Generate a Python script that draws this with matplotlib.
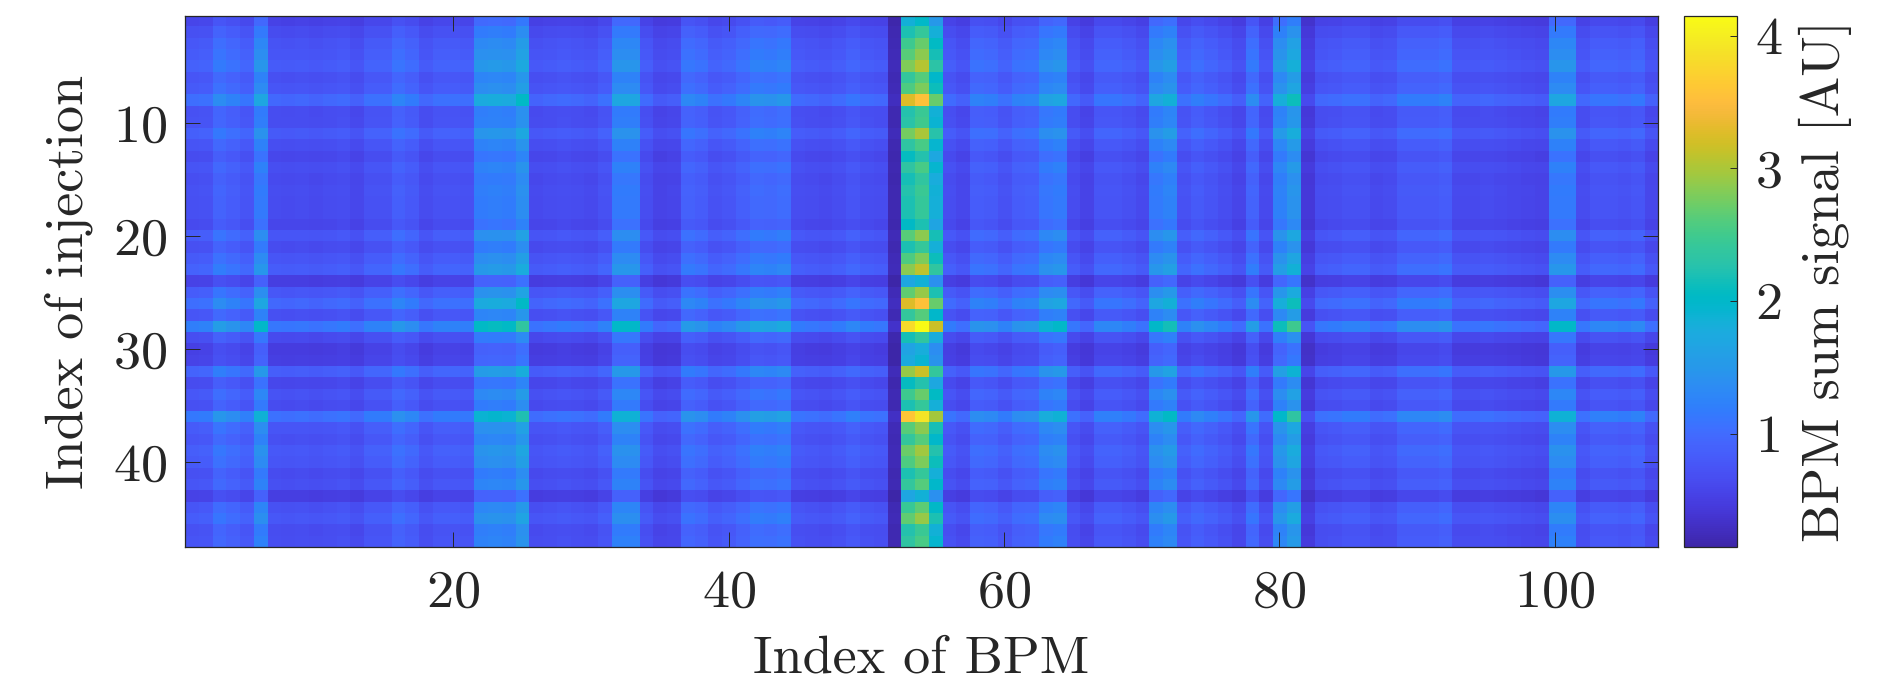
import numpy as np
import matplotlib
matplotlib.use("Agg")
import matplotlib.pyplot as plt
from matplotlib.colors import LinearSegmentedColormap

plt.rcParams["font.family"] = "cmr10"
plt.rcParams["axes.formatter.use_mathtext"] = True

# MATLAB parula (64 entries)
PARULA = [
    [0.2422, 0.1504, 0.6603], [0.2504, 0.1650, 0.7076], [0.2578, 0.1818, 0.7511],
    [0.2647, 0.1978, 0.7952], [0.2706, 0.2147, 0.8364], [0.2751, 0.2342, 0.8710],
    [0.2783, 0.2559, 0.8991], [0.2803, 0.2782, 0.9221], [0.2813, 0.3006, 0.9414],
    [0.2810, 0.3228, 0.9579], [0.2795, 0.3447, 0.9717], [0.2760, 0.3667, 0.9829],
    [0.2699, 0.3892, 0.9906], [0.2602, 0.4123, 0.9952], [0.2440, 0.4358, 0.9988],
    [0.2206, 0.4603, 0.9973], [0.1963, 0.4847, 0.9892], [0.1834, 0.5074, 0.9798],
    [0.1786, 0.5289, 0.9682], [0.1764, 0.5499, 0.9520], [0.1687, 0.5703, 0.9359],
    [0.1540, 0.5902, 0.9218], [0.1460, 0.6091, 0.9079], [0.1380, 0.6276, 0.8973],
    [0.1248, 0.6459, 0.8883], [0.1113, 0.6635, 0.8763], [0.0952, 0.6798, 0.8598],
    [0.0689, 0.6948, 0.8394], [0.0297, 0.7082, 0.8163], [0.0036, 0.7203, 0.7917],
    [0.0067, 0.7312, 0.7660], [0.0433, 0.7411, 0.7394], [0.0964, 0.7500, 0.7120],
    [0.1408, 0.7584, 0.6842], [0.1717, 0.7670, 0.6554], [0.1938, 0.7758, 0.6251],
    [0.2161, 0.7843, 0.5923], [0.2470, 0.7918, 0.5567], [0.2906, 0.7973, 0.5188],
    [0.3406, 0.8008, 0.4789], [0.3909, 0.8029, 0.4354], [0.4456, 0.8024, 0.3909],
    [0.5044, 0.7993, 0.3480], [0.5616, 0.7942, 0.3045], [0.6174, 0.7876, 0.2612],
    [0.6720, 0.7793, 0.2227], [0.7242, 0.7698, 0.1910], [0.7738, 0.7598, 0.1646],
    [0.8203, 0.7498, 0.1535], [0.8634, 0.7406, 0.1596], [0.9035, 0.7330, 0.1774],
    [0.9393, 0.7288, 0.2100], [0.9728, 0.7298, 0.2394], [0.9956, 0.7434, 0.2371],
    [0.9970, 0.7659, 0.2199], [0.9952, 0.7893, 0.2028], [0.9892, 0.8136, 0.1885],
    [0.9786, 0.8386, 0.1766], [0.9676, 0.8639, 0.1643], [0.9610, 0.8890, 0.1537],
    [0.9597, 0.9135, 0.1423], [0.9628, 0.9373, 0.1265], [0.9691, 0.9606, 0.1064],
    [0.9769, 0.9839, 0.0805],
]
parula = LinearSegmentedColormap.from_list("parula", PARULA, N=256)

# Relative response of each BPM (index 1..107)
bpm_gain = [
    0.29, 0.30, 0.38, 0.35, 0.31, 0.48, 0.27, 0.265, 0.27, 0.26,
    0.27, 0.28, 0.25, 0.30, 0.30, 0.36, 0.33, 0.27, 0.30, 0.30,
    0.29, 0.49, 0.50, 0.49, 0.57, 0.26, 0.27, 0.28, 0.27, 0.26,
    0.30, 0.48, 0.48, 0.28, 0.23, 0.24, 0.37, 0.35, 0.30, 0.32,
    0.36, 0.41, 0.40, 0.42, 0.28, 0.27, 0.26, 0.28, 0.31, 0.28,
    0.27, 0.08, 0.92, 1.00, 0.76, 0.28, 0.25, 0.35, 0.34, 0.30,
    0.35, 0.36, 0.46, 0.48, 0.27, 0.23, 0.31, 0.31, 0.29, 0.26,
    0.48, 0.52, 0.30, 0.34, 0.31, 0.28, 0.24, 0.38, 0.26, 0.51,
    0.60, 0.18, 0.27, 0.28, 0.30, 0.30, 0.26, 0.27, 0.33, 0.33,
    0.33, 0.35, 0.26, 0.26, 0.27, 0.26, 0.25, 0.24, 0.23, 0.48,
    0.48, 0.27, 0.31, 0.31, 0.30, 0.32, 0.25,
]

# Beam intensity of each injection (index 1..47)
injection_level = [
    2.00, 2.40, 2.70, 2.85, 3.05, 2.60, 2.80, 3.55, 2.45, 2.50,
    3.00, 2.55, 2.25, 2.55, 2.35, 2.45, 2.40, 2.40, 2.20, 2.85,
    2.40, 2.80, 3.10, 1.85, 2.90, 3.55, 2.60, 4.148, 2.35, 1.80,
    1.90, 3.15, 2.25, 2.70, 2.40, 3.90, 2.85, 2.60, 2.95, 2.80,
    2.40, 2.60, 1.85, 2.65, 2.90, 2.45, 2.55,
]

x_ticks = [20, 40, 60, 80, 100]
y_ticks = [10, 20, 30, 40]
cbar_ticks = [1, 2, 3, 4]

signal = np.outer(injection_level, bpm_gain)
n_inj, n_bpm = signal.shape

W, H = 1891, 690
fig = plt.figure(figsize=(W / 100, H / 100), dpi=100)
ax = fig.add_axes([184.8 / W, (H - 547.1) / H, 1473.1 / W, 531.1 / H])

im = ax.imshow(signal, cmap=parula, aspect="auto", interpolation="nearest",
               extent=(0.5, n_bpm + 0.5, n_inj + 0.5, 0.5))

ink = "#262626"
fs = 39
ax.set_xticks(x_ticks)
ax.set_yticks(y_ticks)
ax.tick_params(direction="in", length=10.8, width=0.7, top=True, right=True,
               colors=ink, labelsize=fs)
ax.tick_params(axis="x", pad=16)
ax.tick_params(axis="y", pad=13)
for s in ax.spines.values():
    s.set_linewidth(0.9)
    s.set_color(ink)

ax.set_xlabel("Index of BPM", fontsize=fs, color=ink, labelpad=14)
ax.set_ylabel("Index of injection", fontsize=fs, color=ink, labelpad=14)

cax = fig.add_axes([1684.3 / W, (H - 547.1) / H, 52.5 / W, 531.1 / H])
cb = fig.colorbar(im, cax=cax)
cb.set_ticks(cbar_ticks)
cb.ax.tick_params(direction="in", length=5, width=0.7, colors=ink,
                  labelsize=fs, pad=13)
cb.outline.set_linewidth(0.9)
cb.outline.set_edgecolor(ink)
cb.set_label("BPM sum signal [AU]", fontsize=fs, color=ink, labelpad=12)

fig.savefig("out.png", dpi=100)
